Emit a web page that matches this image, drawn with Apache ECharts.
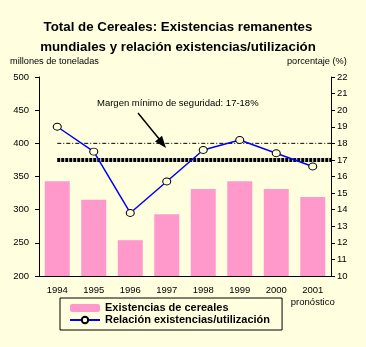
<!DOCTYPE html>
<html>
<head>
<meta charset="utf-8">
<script src="https://cdn.jsdelivr.net/npm/echarts@6/dist/echarts.min.js"></script>
<style>
  html, body { margin: 0; padding: 0; background: #ffffe0; }
  #chart { width: 366px; height: 347px; }
</style>
</head>
<body>
<div id="chart"></div>
<script>
// datos
const years = ['1994', '1995', '1996', '1997', '1998', '1999', '2000', '2001']
const yearLabels = ['1994', '1995', '1996', '1997', '1998', '1999', '2000', '2001\npronóstico']
const stocks = [343, 315, 254, 293, 331, 343, 331, 319]          // millones de toneladas
const ratio = [19.0, 17.5, 13.8, 15.7, 17.6, 18.2, 17.4, 16.6]   // porcentaje
const stockAxis = [200, 500, 50]   // min, max, paso
const ratioAxis = [10, 22, 1]
const marginLow = 17
const marginHigh = 18

const font = 'Liberation Sans, Arial, sans-serif'
const chart = echarts.init(document.getElementById('chart'))

chart.setOption({
  backgroundColor: '#ffffe0',
  animation: false,
  title: {
    text: 'Total de Cereales: Existencias remanentes\nmundiales y relación existencias/utilización',
    left: 173,
    top: 12,
    textAlign: 'center',
    textStyle: { fontFamily: font, fontSize: 13.3, fontWeight: 'bold', color: '#000', lineHeight: 20 }
  },
  grid: { left: 39, right: 35, top: 77, bottom: 71 },
  legend: {
    orient: 'vertical',
    left: 60,
    top: 298,
    data: ['Existencias de cereales', 'Relación existencias/utilización'],
    itemWidth: 30,
    itemHeight: 8,
    itemGap: 0,
    padding: [4, 12, 4, 9],
    borderColor: '#000',
    borderWidth: 1,
    textStyle: { fontFamily: font, fontSize: 11, fontWeight: 'bold', color: '#000', lineHeight: 12 }
  },
  xAxis: [{
    type: 'category',
    data: years,
    axisLine: { lineStyle: { color: '#000', width: 1 } },
    axisTick: { length: 3, lineStyle: { color: '#000' } },
    axisLabel: {
      interval: 0,
      fontFamily: font, fontSize: 9.5, color: '#000', margin: 8, lineHeight: 12,
      formatter: (v, i) => yearLabels[i]
    }
  }, {
    type: 'value',
    min: 0,
    max: years.length,
    show: false
  }],
  yAxis: [{
    type: 'value',
    min: stockAxis[0],
    max: stockAxis[1],
    interval: stockAxis[2],
    splitLine: { show: false },
    axisLine: { show: true, lineStyle: { color: '#000' } },
    axisTick: { show: true, length: 4, lineStyle: { color: '#000' } },
    axisLabel: { fontFamily: font, fontSize: 9.5, color: '#000', margin: 10 }
  }, {
    type: 'value',
    min: ratioAxis[0],
    max: ratioAxis[1],
    interval: ratioAxis[2],
    splitLine: { show: false },
    axisLine: { show: true, lineStyle: { color: '#000' } },
    axisTick: { show: true, length: 4, lineStyle: { color: '#000' } },
    axisLabel: { fontFamily: font, fontSize: 9.5, color: '#000', margin: 6 }
  }],
  graphic: [
    { type: 'text', left: 10, top: 57, style: { text: 'millones de toneladas', font: '9.2px ' + font, fill: '#000' } },
    { type: 'text', left: 287, top: 57, style: { text: 'porcentaje (%)', font: '9.2px ' + font, fill: '#000' } },
    { type: 'text', left: 97, top: 98, style: { text: 'Margen mínimo de seguridad: 17-18%', font: '9.5px ' + font, fill: '#000' } },
    { type: 'line', shape: { x1: 138, y1: 113, x2: 160, y2: 140 }, style: { stroke: '#000', lineWidth: 1.5 } },
    { type: 'polygon', shape: { points: [[166, 148], [155, 141.4], [162, 135.8]] }, style: { fill: '#000' } }
  ],
  series: [{
    name: 'Existencias de cereales',
    type: 'bar',
    data: stocks,
    barWidth: 25,
    itemStyle: { color: '#ff99cc' }
  }, {
    name: 'margen alto',
    type: 'line',
    xAxisIndex: 1,
    yAxisIndex: 1,
    data: [[0.5, marginHigh], [years.length, marginHigh]],
    symbol: 'none',
    lineStyle: { color: '#000', width: 1, type: [4, 2, 1, 2] },
    silent: true
  }, {
    name: 'margen bajo',
    type: 'line',
    xAxisIndex: 1,
    yAxisIndex: 1,
    data: [[0.5, marginLow], [years.length, marginLow]],
    symbol: 'none',
    lineStyle: { color: '#000', width: 4, type: [3, 1] },
    silent: true
  }, {
    name: 'Relación existencias/utilización',
    type: 'line',
    yAxisIndex: 1,
    data: ratio,
    symbol: 'circle',
    symbolSize: [8, 7],
    lineStyle: { color: '#0000ff', width: 1.5 },
    itemStyle: { color: '#ffffe0', borderColor: '#000', borderWidth: 1 }
  }]
})
</script>
</body>
</html>
